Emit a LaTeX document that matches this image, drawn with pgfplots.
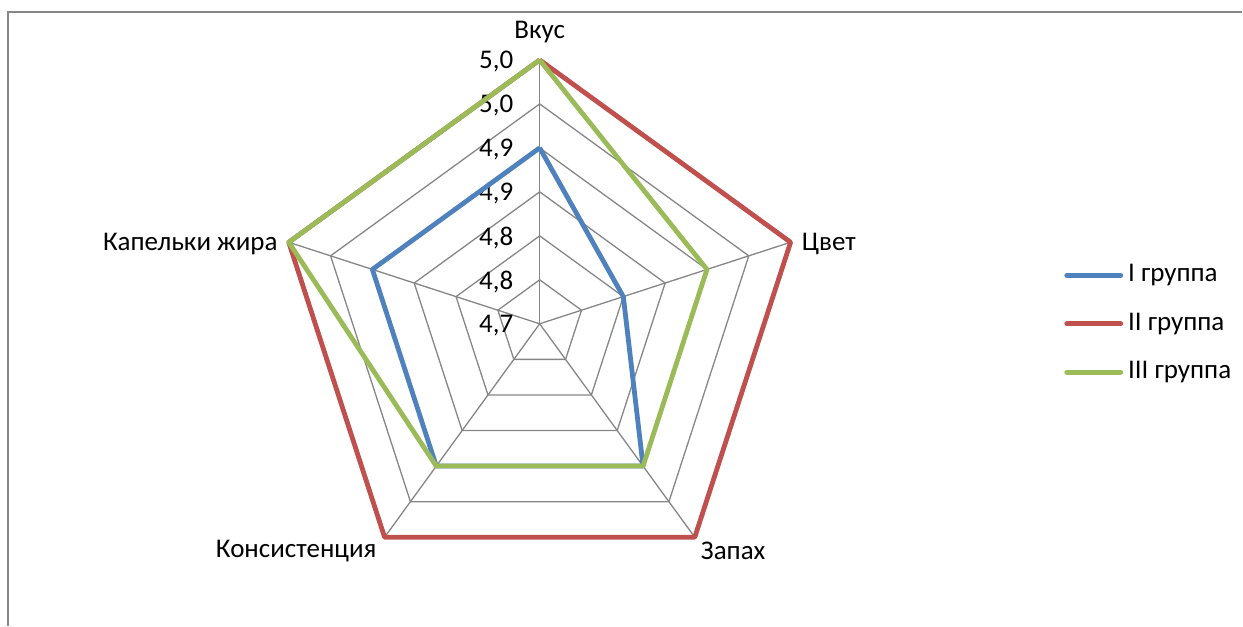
\documentclass[border=0pt]{standalone}
\usepackage{pgfplots}
\pgfplotsset{compat=1.18}
\usepackage{pgfplotstable}
\usepackage{fontspec}
\setmainfont{Carlito}
\definecolor{gI}{HTML}{4F81BD}
\definecolor{gII}{HTML}{C0504D}
\definecolor{gIII}{HTML}{9BBB59}
\definecolor{gridc}{HTML}{868686}

% angle (deg), values of groups I, II, III; last row closes the polygon
\pgfplotstableread{
a    v1   v2   v3
90   4.9  5.0  5.0
18   4.8  5.0  4.9
-54  4.9  5.0  4.9
-126 4.9  5.0  4.9
162  4.9  5.0  5.0
90   4.9  5.0  5.0
}\radardata

\begin{document}
\begin{tikzpicture}
\begin{axis}[
  scale only axis, width=621.5pt, height=313pt,
  xmin=0, xmax=1243, ymin=0, ymax=626,
  hide axis, clip=false,
  font=\fontsize{13.5}{16}\selectfont,
  legend style={draw=none, fill=none, inner sep=0pt, outer sep=0pt,
    at={(rel axis cs:0.8568,0.4824)}, anchor=west,
    nodes={inner sep=0pt, text height=9.5pt, text depth=3pt, font=\fontsize{13.5}{16}\selectfont},
    row sep=11.75pt, column sep=2.5pt},
  legend cell align=left,
  legend image code/.code={\draw[#1, line cap=round] (0pt,0pt) -- (27pt,0pt);},
]
\path (axis cs:0,0) rectangle (axis cs:1243,626);
% frame (top and left edges visible)
\draw[gridc, line width=0.75pt] (axis cs:8,0) -- (axis cs:8,614) -- (axis cs:1243,614);
% grid pentagons
\pgfplotsinvokeforeach{1,...,6}{
  \draw[gridc, line width=0.65pt, line join=miter, shift={(axis cs:540,302)}]
    (90:{#1*22pt}) -- (18:{#1*22pt}) -- (-54:{#1*22pt}) -- (-126:{#1*22pt}) -- (162:{#1*22pt}) -- cycle;
}
\pgfplotsinvokeforeach{90,18,-54,-126,162}{
  \draw[gridc, line width=0.65pt, shift={(axis cs:540,302)}] (0,0) -- (#1:132pt);
}
% radial labels
\node[anchor=east, inner sep=0pt] at (axis cs:514,300) {4,7};
\node[anchor=east, inner sep=0pt] at (axis cs:514,344) {4,8};
\node[anchor=east, inner sep=0pt] at (axis cs:514,388) {4,8};
\node[anchor=east, inner sep=0pt] at (axis cs:514,432) {4,9};
\node[anchor=east, inner sep=0pt] at (axis cs:514,476) {4,9};
\node[anchor=east, inner sep=0pt] at (axis cs:514,520) {5,0};
\node[anchor=east, inner sep=0pt] at (axis cs:514,564) {5,0};
% category labels
\node[inner sep=0pt] at (axis cs:540,594) {Вкус};
\node[anchor=west, inner sep=0pt] at (axis cs:802,382) {Цвет};
\node[anchor=west, inner sep=0pt] at (axis cs:701,75) {Запах};
\node[anchor=east, inner sep=0pt] at (axis cs:377,75) {Консистенция};
\node[anchor=east, inner sep=0pt] at (axis cs:278,382) {Капельки жира};

\addplot[gI, line width=2.4pt, line join=round] table[
  x expr={540+880*(\thisrow{v1}-4.7)*cos(\thisrow{a})},
  y expr={302+880*(\thisrow{v1}-4.7)*sin(\thisrow{a})}] {\radardata};
\addlegendentry{I группа}
\addplot[gII, line width=2.4pt, line join=round] table[
  x expr={540+880*(\thisrow{v2}-4.7)*cos(\thisrow{a})},
  y expr={302+880*(\thisrow{v2}-4.7)*sin(\thisrow{a})}] {\radardata};
\addlegendentry{II группа}
\addplot[gIII, line width=2.4pt, line join=round] table[
  x expr={540+880*(\thisrow{v3}-4.7)*cos(\thisrow{a})},
  y expr={302+880*(\thisrow{v3}-4.7)*sin(\thisrow{a})}] {\radardata};
\addlegendentry{III группа}
\end{axis}
\end{tikzpicture}
\end{document}
